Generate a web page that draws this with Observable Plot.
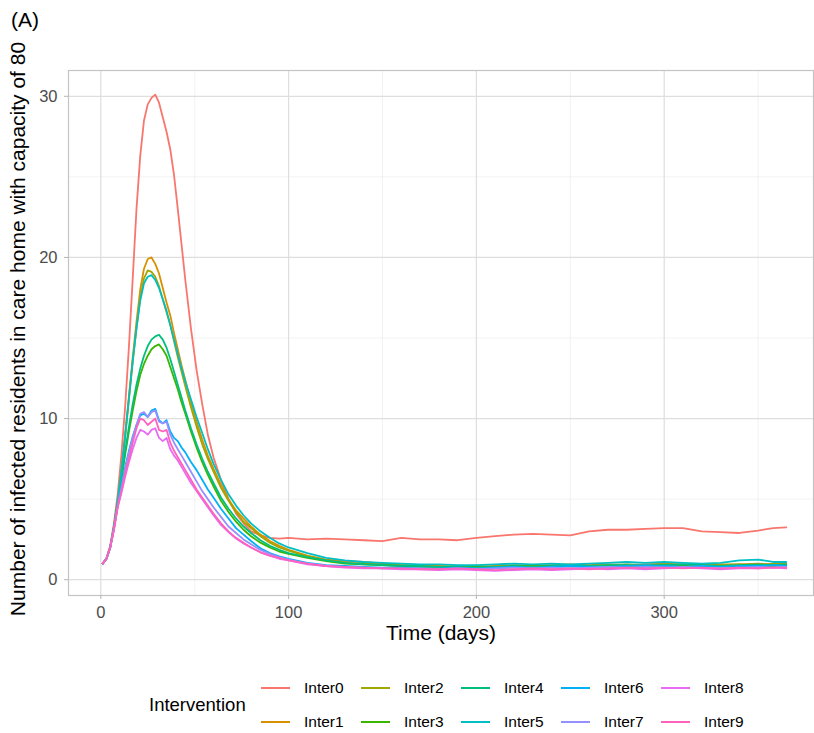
<!DOCTYPE html>
<html>
<head>
<meta charset="utf-8">
<script src="https://cdn.jsdelivr.net/npm/d3@7"></script>
<script src="https://cdn.jsdelivr.net/npm/@observablehq/plot@0.6"></script>
<style>
  html, body { margin: 0; padding: 0; background: #fff; }
  body { width: 814px; height: 733px; position: relative; overflow: hidden;
         font-family: "Liberation Sans", Arial, sans-serif; }
  #chart { position: absolute; left: 0; top: 0; }
  .panel-label { position: absolute; left: 11px; top: 8px; font-size: 21px; color: #000; z-index: 2; }
  .lg-title { position: absolute; font-size: 18.5px; color: #000; }
  .lg-key { position: absolute; width: 29px; height: 2px; }
  .lg-text { position: absolute; font-size: 15.5px; color: #000; }
</style>
</head>
<body>
<div id="chart"></div>
<div class="panel-label">(A)</div>
<div id="legend"></div>
<script>
// ---- Data ----
const days = [1,3,5,7,9,11,13,15,17,19,21,23,25,27,29,31,33,35,37,39,41,43,45,48,51,54,57,60,64,68,72,76,80,85,90,95,100,
  110,120,130,140,150,160,170,180,190,200,210,220,230,240,250,260,270,280,290,300,310,320,330,340,350,358,365];

const inter0 = [1.0,1.3,2.1,3.5,5.3,7.8,10.8,14.5,18.7,23.0,26.3,28.5,29.5,29.9,30.1,29.6,28.7,27.8,26.7,25.1,23.0,20.8,18.6,15.6,13.0,10.9,9.0,7.6,6.2,5.0,4.1,3.5,3.0,2.75,2.6,2.55,2.6,
  2.5,2.55,2.5,2.45,2.4,2.6,2.5,2.5,2.45,2.6,2.7,2.8,2.85,2.8,2.75,3.0,3.1,3.1,3.15,3.2,3.2,3.0,2.95,2.9,3.05,3.2,3.25];
const inter1 = [1.0,1.3,2.0,3.3,4.9,6.8,9.0,11.4,13.8,16.0,18.0,19.3,19.9,20.0,19.6,19.0,18.1,17.2,16.4,15.3,14.3,13.3,12.4,11.0,9.8,8.7,7.7,6.9,5.9,5.0,4.3,3.8,3.3,2.8,2.4,2.1,1.85,
  1.5,1.25,1.15,1.1,1.0,0.9,0.85,0.85,0.8,0.8,0.85,0.9,0.85,0.9,0.95,0.9,0.95,0.9,0.95,1.0,0.95,0.9,0.95,0.95,1.0,0.95,1.0];
const inter2 = [1.0,1.3,2.0,3.3,4.9,6.7,8.9,11.2,13.5,15.6,17.5,18.7,19.2,19.1,18.8,18.2,17.4,16.6,15.8,14.8,13.8,12.9,12.0,10.7,9.5,8.4,7.5,6.7,5.7,4.9,4.2,3.6,3.2,2.7,2.3,2.0,1.8,
  1.45,1.2,1.05,1.0,0.95,0.9,0.85,0.8,0.85,0.85,0.8,0.85,0.9,0.85,0.9,0.85,0.9,0.95,0.9,0.95,0.9,0.95,0.9,0.95,0.9,1.0,0.95];
const inter3 = [1.0,1.3,2.0,3.2,4.7,6.2,7.8,9.2,10.5,11.7,12.7,13.4,13.9,14.3,14.5,14.6,14.3,13.9,13.2,12.5,11.8,11.0,10.3,9.2,8.2,7.3,6.5,5.8,4.9,4.2,3.6,3.1,2.7,2.3,2.0,1.75,1.6,
  1.35,1.15,1.0,0.95,0.9,0.85,0.8,0.8,0.75,0.8,0.75,0.8,0.85,0.8,0.85,0.8,0.85,0.8,0.85,0.9,0.85,0.8,0.85,0.8,0.85,0.85,0.9];
const inter4 = [1.0,1.3,2.0,3.2,4.7,6.3,8.0,9.5,10.9,12.1,13.1,13.9,14.5,14.9,15.1,15.2,14.9,14.4,13.7,12.9,12.1,11.3,10.5,9.4,8.4,7.5,6.7,6.0,5.1,4.4,3.8,3.3,2.9,2.45,2.1,1.85,1.65,
  1.4,1.2,1.05,0.95,0.9,0.85,0.85,0.8,0.8,0.75,0.8,0.85,0.8,0.85,0.9,0.85,0.9,0.9,0.85,0.9,0.95,0.9,0.85,0.9,0.95,0.9,0.95];
const inter5 = [1.0,1.3,2.0,3.3,4.9,6.8,9.0,11.3,13.6,15.6,17.3,18.4,18.8,18.9,18.6,18.1,17.4,16.7,15.8,14.9,14.0,13.1,12.3,11.2,10.1,9.1,8.1,7.2,6.2,5.3,4.6,4.0,3.5,3.0,2.6,2.25,2.0,
  1.65,1.35,1.2,1.1,1.05,1.0,0.95,0.95,0.9,0.9,0.95,1.0,0.95,1.0,0.95,1.0,1.05,1.1,1.05,1.1,1.05,1.0,1.05,1.2,1.25,1.1,1.1];
const inter6 = [1.0,1.3,2.0,3.2,4.6,5.8,7.0,8.0,8.9,9.6,10.2,10.3,10.1,10.5,10.6,9.9,9.7,9.9,9.2,8.8,8.6,8.2,7.9,7.3,6.8,6.2,5.6,5.1,4.4,3.8,3.2,2.8,2.4,1.95,1.65,1.45,1.3,
  1.05,0.9,0.85,0.8,0.75,0.75,0.7,0.7,0.75,0.7,0.75,0.8,0.75,0.8,0.85,0.8,0.8,0.85,0.9,0.85,0.8,0.85,0.8,0.85,0.85,0.9,0.85];
const inter7 = [1.0,1.3,2.0,3.2,4.6,5.7,6.9,7.9,8.8,9.6,10.3,10.4,10.1,10.4,10.5,9.8,9.7,9.8,9.0,8.5,8.1,7.7,7.3,6.7,6.1,5.5,5.0,4.5,3.9,3.3,2.9,2.5,2.2,1.85,1.6,1.4,1.25,
  1.0,0.85,0.8,0.75,0.7,0.7,0.7,0.65,0.7,0.65,0.7,0.75,0.7,0.75,0.7,0.75,0.8,0.75,0.8,0.75,0.8,0.75,0.7,0.75,0.8,0.75,0.8];
const inter8 = [1.0,1.3,2.0,3.1,4.5,5.4,6.4,7.3,8.1,8.8,9.3,9.2,9.0,9.3,9.4,8.8,8.6,8.8,8.1,7.7,7.4,7.0,6.6,6.0,5.5,5.0,4.5,4.0,3.4,2.95,2.55,2.25,2.0,1.7,1.5,1.3,1.2,
  0.95,0.85,0.75,0.7,0.7,0.65,0.65,0.6,0.65,0.6,0.55,0.6,0.65,0.6,0.65,0.7,0.65,0.7,0.65,0.7,0.75,0.7,0.65,0.7,0.7,0.75,0.7];
const inter9 = [1.0,1.3,2.0,3.1,4.5,5.5,6.6,7.5,8.5,9.4,10.0,9.9,9.6,9.8,10.0,9.3,9.2,9.3,8.5,8.0,7.6,7.2,6.8,6.2,5.6,5.1,4.6,4.1,3.5,3.0,2.6,2.3,2.0,1.7,1.5,1.35,1.2,
  1.0,0.85,0.8,0.75,0.7,0.7,0.65,0.65,0.7,0.65,0.6,0.65,0.7,0.65,0.7,0.65,0.7,0.75,0.7,0.75,0.7,0.75,0.7,0.75,0.7,0.75,0.75];

const seriesNames = ["Inter0","Inter1","Inter2","Inter3","Inter4","Inter5","Inter6","Inter7","Inter8","Inter9"];
const seriesValues = [inter0,inter1,inter2,inter3,inter4,inter5,inter6,inter7,inter8,inter9];
const seriesColors = ["#F8766D","#D89000","#A3A500","#39B600","#00BF7D","#00BFC4","#00B0F6","#9590FF","#E76BF3","#FF62BC"];

const xMajor = [0,100,200,300];
const xMinor = [50,150,250,350];
const yMajor = [0,10,20,30];
const yMinor = [5,15,25];
const xTitle = "Time (days)";
const yTitle = "Number of infected residents in care home with capacity of 80";
const legendTitle = "Intervention";

// ---- Build long table ----
const data = seriesNames.flatMap((name, i) =>
  days.map((d, j) => ({series: name, day: d, value: seriesValues[i][j]})));

const chart = Plot.plot({
  width: 814,
  height: 660,
  marginLeft: 68,
  marginRight: 1,
  marginTop: 70,
  marginBottom: 65,
  x: {domain: [-17.2, 379.5]},
  y: {domain: [-0.98, 31.6]},
  color: {domain: seriesNames, range: seriesColors},
  style: {fontFamily: "'Liberation Sans', Arial, sans-serif", fontSize: "16.5px", color: "#4d4d4d", background: "white", overflow: "visible"},
  marks: [
    Plot.gridX(xMinor, {stroke: "#ececec", strokeOpacity: 1, strokeWidth: 0.7}),
    Plot.gridY(yMinor, {stroke: "#ececec", strokeOpacity: 1, strokeWidth: 0.7}),
    Plot.gridX(xMajor, {stroke: "#dedede", strokeOpacity: 1, strokeWidth: 1.2}),
    Plot.gridY(yMajor, {stroke: "#dedede", strokeOpacity: 1, strokeWidth: 1.2}),
    Plot.line(data, {x: "day", y: "value", z: "series", stroke: "series", strokeWidth: 1.8}),
    Plot.frame({stroke: "#c4c4c4", strokeWidth: 1.2}),
    Plot.axisX(xMajor, {tickSize: 4, tickPadding: 7, stroke: "#b3b3b3", fill: "#4d4d4d", label: null}),
    Plot.axisY(yMajor, {tickSize: 4, tickPadding: 7, stroke: "#b3b3b3", fill: "#4d4d4d", label: null}),
    Plot.text([xTitle], {frameAnchor: "bottom", dy: 44, fontSize: 21, fill: "#000"}),
    Plot.text([yTitle], {frameAnchor: "left", textAnchor: "middle", rotate: -90, dx: -50, dy: -4, fontSize: 21, fill: "#000"})
  ]
});
document.getElementById("chart").appendChild(chart);

// ---- Legend (below the plot) ----
const legend = document.getElementById("legend");
const t = document.createElement("div");
t.className = "lg-title";
t.textContent = legendTitle;
t.style.left = "149px";
t.style.top = "694px";
legend.appendChild(t);
seriesNames.forEach((name, i) => {
  const col = Math.floor(i / 2), row = i % 2;
  const cx = 261 + col * 100;
  const cy = 688 + row * 34;
  const k = document.createElement("div");
  k.className = "lg-key";
  k.style.left = cx + "px";
  k.style.top = (cy - 1) + "px";
  k.style.background = seriesColors[i];
  legend.appendChild(k);
  const s = document.createElement("div");
  s.className = "lg-text";
  s.textContent = name;
  s.style.left = (cx + 43) + "px";
  s.style.top = (cy - 9) + "px";
  legend.appendChild(s);
});
</script>
</body>
</html>
